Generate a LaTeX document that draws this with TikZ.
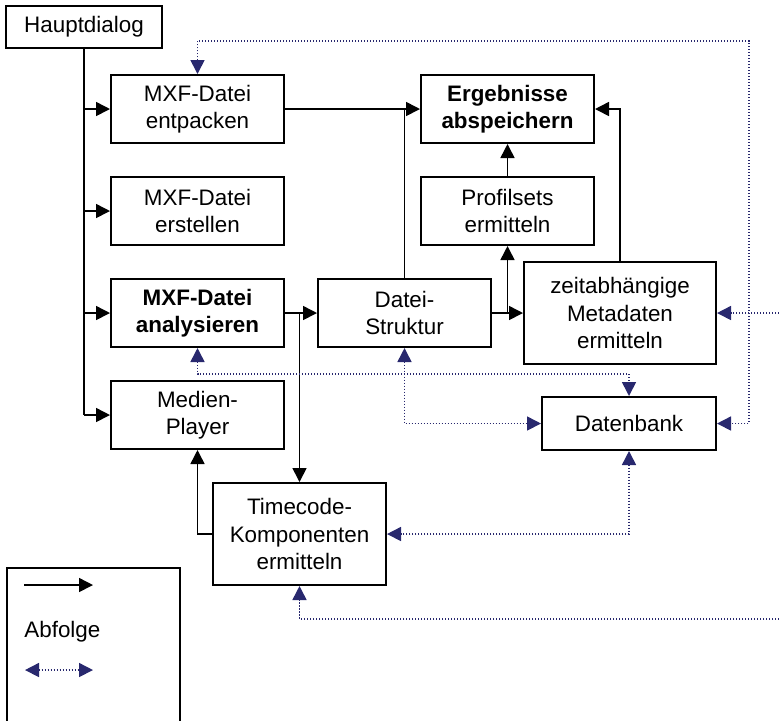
\documentclass[tikz,border=0pt]{standalone}
\usepackage{fontspec}
\setmainfont{Liberation Sans}
\usetikzlibrary{arrows.meta}

\definecolor{dbnavy}{RGB}{40,40,110}

\tikzset{
  box/.style={draw, line width=1pt, minimum width=86.5pt, minimum height=34pt,
    align=center, inner sep=0pt, font=\fontsize{11.2}{13.6}\selectfont},
  flow/.style={line width=0.8pt, -{Triangle[length=7pt,width=7pt]}},
  plain/.style={line width=0.8pt},
  link/.style={dbnavy, line width=0.8pt, dash pattern=on 0.6pt off 0.9pt,
    {Triangle[length=7pt,width=7pt]}-{Triangle[length=7pt,width=7pt]}},
  linkone/.style={dbnavy, line width=0.8pt, dash pattern=on 0.6pt off 0.9pt,
    -{Triangle[length=7pt,width=7pt]}}
}

\begin{document}
\begin{tikzpicture}[x=0.5pt, y=-0.5pt]
\useasboundingbox (0,0) rectangle (779,720);

% Kästen links
\node[box, minimum width=78pt, minimum height=21pt] (haupt) at (84,27) {Hauptdialog};
\node[box] (entp) at (197.5,109) {MXF-Datei\\entpacken};
\node[box] (erst) at (197.5,211) {MXF-Datei\\erstellen};
\node[box] (anal) at (197.5,313) {\textbf{MXF-Datei}\\\textbf{analysieren}};
\node[box] (player) at (197.5,415) {Medien-\\Player};
\node[box, minimum height=51pt] (tc) at (299.5,534) {Timecode-\\Komponenten\\ermitteln};

% Kästen rechts
\node[box] (struct) at (404.5,313) {Datei-\\Struktur};
\node[box] (erg) at (507.5,109) {\textbf{Ergebnisse}\\\textbf{abspeichern}};
\node[box] (prof) at (507.5,211) {Profilsets\\ermitteln};
\node[box, minimum width=96pt, minimum height=51pt] (meta) at (620,313) {zeitabhängige\\Metadaten\\ermitteln};
\node[box, minimum width=87pt, minimum height=26.5pt] (db) at (629,423.5) {Datenbank};

% Abfolge
\draw[plain] (haupt.south) -- (haupt.south |- player.west);
\foreach \n in {entp, erst, anal, player}
  \draw[flow] (haupt.south |- \n.west) -- (\n.west);
\draw[flow] (entp.east) -- (erg.west);
\draw[plain] (struct.north) -- (struct.north |- entp.east);
\draw[flow] (anal.east) -- (struct.west);
\draw[flow] (anal.east -| tc.north) -- (tc.north);
\draw[flow] (struct.east) -- (meta.west);
\draw[flow] (struct.east -| prof.south) -- (prof.south);
\draw[flow] (prof.north) -- (erg.south);
\draw[flow] (meta.north) |- (erg.east);
\draw[flow] (tc.west) -| (player.south);

% Datenaustausch (gepunktet)
\coordinate (oben) at (749,41);
\coordinate (randM) at (779,313);
\coordinate (randU) at (779,619);
\draw[link] (entp.north) |- (oben) |- (db.east);
\draw[linkone] (randM) -- (meta.east);
\draw[linkone] (randU) -| (tc.south);
\draw[link] (anal.south) -- ++(0,26) -| (db.north);
\draw[link] (struct.south) |- (db.west);
\draw[link] (db.south) |- (tc.east);

% Legende
\draw[line width=1pt] (7,730) -- (7,568) -- (180,568) -- (180,730);
\coordinate (la) at (24,585);
\coordinate (lb) at (93,585);
\draw[flow] (la) -- (lb);
\node[anchor=west, inner sep=0pt, font=\fontsize{11.2}{13.6}\selectfont] (abf) at (24,632) {Abfolge};
\coordinate (lc) at (25,670);
\coordinate (ld) at (93,670);
\draw[link] (lc) -- (ld);

\end{tikzpicture}
\end{document}
